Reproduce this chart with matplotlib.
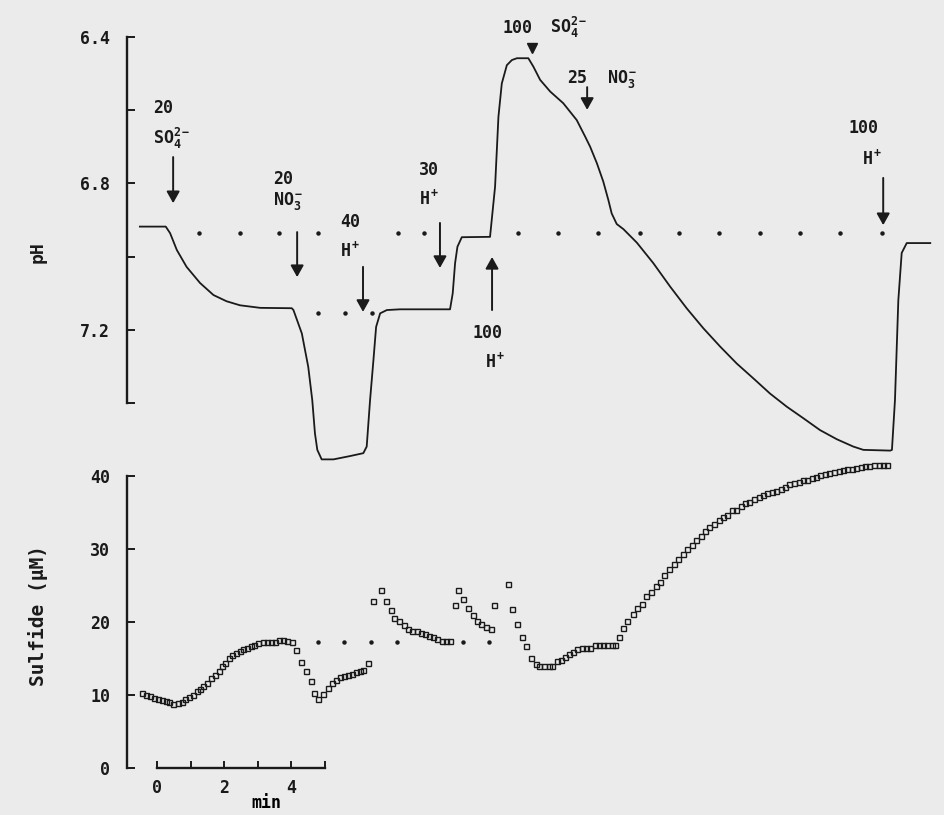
"""Recreate the pH / sulfide time course figure (dot-matrix style plot)."""

import matplotlib

matplotlib.use("Agg")
import matplotlib.pyplot as plt

BG = "#ebebeb"
INK = "#1a1a1a"

# ---- data (time in min) ---------------------------------------------------
ph_time = [
    -0.51, 0.26, 0.39, 0.59, 0.88, 1.28, 1.68, 2.07, 2.47, 3.07, 4.01, 4.06,
    4.31, 4.50, 4.62, 4.70, 4.77, 4.90, 5.25, 5.74, 6.14, 6.24, 6.34, 6.44,
    6.52, 6.64, 6.84, 7.23, 8.72, 8.80, 8.87, 8.94, 9.07, 9.91, 10.06, 10.16,
    10.26, 10.41, 10.56, 10.71, 11.05, 11.20, 11.40, 11.70, 12.09, 12.49,
    12.74, 12.89, 13.09, 13.28, 13.43, 13.53, 13.68, 13.88, 14.28, 14.77,
    15.27, 15.76, 16.26, 16.76, 17.25, 17.75, 18.24, 18.74, 19.24, 19.73,
    20.23, 20.72, 21.02, 21.82, 21.87, 21.96, 22.06, 22.16, 22.31, 23.01,
]
ph_value = [
    6.918, 6.918, 6.936, 6.982, 7.028, 7.072, 7.105, 7.122, 7.133, 7.140,
    7.141, 7.146, 7.210, 7.301, 7.392, 7.483, 7.528, 7.554, 7.554, 7.545,
    7.537, 7.519, 7.392, 7.283, 7.192, 7.155, 7.146, 7.144, 7.144, 7.100,
    7.018, 6.973, 6.947, 6.946, 6.809, 6.618, 6.527, 6.477, 6.463, 6.458,
    6.458, 6.481, 6.517, 6.549, 6.581, 6.627, 6.672, 6.700, 6.745, 6.795,
    6.845, 6.882, 6.911, 6.925, 6.962, 7.018, 7.082, 7.141, 7.196, 7.246,
    7.292, 7.333, 7.374, 7.410, 7.442, 7.474, 7.499, 7.519, 7.528, 7.530,
    7.528, 7.392, 7.119, 6.990, 6.963, 6.963,
]

sulfide_time = [
    -0.46, -0.33, -0.21, -0.09, 0.04, 0.16, 0.27, 0.37, 0.49, 0.62, 0.73,
    0.83, 0.96, 1.06, 1.18, 1.28, 1.38, 1.50, 1.61, 1.73, 1.83, 1.93, 2.02,
    2.14, 2.24, 2.35, 2.47, 2.57, 2.69, 2.79, 2.90, 3.02, 3.14, 3.26, 3.38,
    3.51, 3.63, 3.74, 3.86, 4.03, 4.13, 4.28, 4.43, 4.57, 4.68, 4.80, 4.95,
    5.08, 5.20, 5.32, 5.45, 5.57, 5.69, 5.81, 5.92, 6.04, 6.14, 6.27,
    6.42, 6.66, 6.82, 6.96, 7.06, 7.20, 7.35, 7.48, 7.60, 7.73, 7.85, 7.98,
    8.10, 8.22, 8.34, 8.47, 8.59, 8.72,
    8.87, 8.96, 9.11, 9.26, 9.40, 9.51, 9.64, 9.78, 9.93,
    10.03, 10.44, 10.57, 10.72, 10.87, 10.97, 11.12, 11.27, 11.38, 11.52,
    11.65, 11.76, 11.90, 12.01, 12.14, 12.26, 12.39, 12.51, 12.64, 12.77,
    12.89, 13.04, 13.15, 13.28, 13.40, 13.53, 13.63, 13.76, 13.86, 14.00,
    14.15, 14.28, 14.42, 14.55, 14.69, 14.84, 14.97, 15.10, 15.25, 15.37,
    15.51, 15.65, 15.78, 15.91, 16.04, 16.18, 16.31, 16.44, 16.56, 16.71,
    16.84, 16.97, 17.10, 17.23, 17.37, 17.50, 17.63, 17.77, 17.90, 18.03,
    18.16, 18.29, 18.42, 18.56, 18.69, 18.82, 18.96, 19.09, 19.22, 19.35,
    19.49, 19.61, 19.73, 19.88, 20.01, 20.15, 20.28, 20.41, 20.54, 20.67,
    20.80, 20.94, 21.07, 21.20, 21.34, 21.47, 21.60, 21.73,
]
sulfide_value = [
    10.3, 10.0, 9.8, 9.6, 9.5, 9.3, 9.2, 9.0, 8.7, 8.9, 9.1,
    9.5, 9.7, 10.0, 10.5, 10.8, 11.2, 11.7, 12.3, 12.7, 13.3, 13.9, 14.4,
    15.1, 15.5, 15.8, 16.0, 16.3, 16.5, 16.7, 16.9, 17.1, 17.3, 17.3, 17.3,
    17.3, 17.5, 17.5, 17.4, 17.2, 16.1, 14.5, 13.3, 11.9, 10.3, 9.5, 10.2,
    10.9, 11.6, 12.1, 12.4, 12.6, 12.7, 12.9, 13.1, 13.3, 13.4, 14.4,
    22.9, 24.4, 22.9, 21.6, 20.6, 20.2, 19.6, 19.1, 18.8, 18.7, 18.5, 18.3,
    18.1, 17.9, 17.7, 17.4, 17.4, 17.4,
    22.3, 24.4, 23.2, 21.9, 21.0, 20.2, 19.7, 19.3, 19.0,
    22.3, 25.2, 21.8, 19.7, 17.9, 16.7, 15.0, 14.2, 13.9, 13.9,
    13.9, 14.0, 14.6, 14.8, 15.2, 15.6, 15.9, 16.3, 16.5, 16.5,
    16.5, 16.8, 16.8, 16.8, 16.8, 16.8, 16.8, 17.9, 19.2, 20.2,
    21.1, 21.9, 22.5, 23.5, 24.1, 24.9, 25.5, 26.4, 27.3, 28.0,
    28.6, 29.3, 30.0, 30.6, 31.2, 31.8, 32.4, 33.0, 33.4, 34.0,
    34.4, 34.7, 35.3, 35.4, 35.9, 36.3, 36.5, 36.8, 37.1, 37.4,
    37.6, 37.8, 38.0, 38.2, 38.5, 38.9, 39.1, 39.2, 39.4, 39.5,
    39.7, 39.9, 40.1, 40.3, 40.4, 40.6, 40.7, 40.8, 40.9, 41.0,
    41.1, 41.2, 41.3, 41.4, 41.5, 41.5, 41.5, 41.5,
]

# dotted reference levels
ph_ref_high = 6.936
ph_ref_high_time = [1.25, 2.47, 3.63, 4.79, 7.17, 7.95, 10.74, 11.93, 13.13,
                    14.38, 15.54, 16.73, 17.95, 19.14, 20.33, 21.58]
ph_ref_low = 7.155
ph_ref_low_time = [4.79, 5.60, 6.40]
sulfide_ref = 17.3
sulfide_ref_time = [4.79, 5.57, 6.37, 7.14, 9.11, 9.88]

ph_ticks = [6.4, 6.8, 7.2]
ph_minor = [6.6, 7.0, 7.4]
sulfide_ticks = [0, 10, 20, 30, 40]
time_ticks = [0, 2, 4]
time_minor = [1, 3, 5]

FS = 12


def style() -> None:
    plt.rcParams.update(
        {
            "font.family": "DejaVu Sans Mono",
            "font.weight": "bold",
            "font.size": FS,
            "mathtext.fontset": "custom",
            "mathtext.rm": "DejaVu Sans Mono:bold",
            "mathtext.bf": "DejaVu Sans Mono:bold",
            "mathtext.it": "DejaVu Sans Mono:bold",
            "mathtext.default": "rm",
            "text.color": INK,
            "axes.edgecolor": INK,
            "axes.linewidth": 1.7,
            "xtick.color": INK,
            "ytick.color": INK,
        }
    )


def arrow(ax, t, tail, tip) -> None:
    ax.annotate(
        "",
        xy=(t, tip),
        xytext=(t, tail),
        annotation_clip=False,
        arrowprops=dict(
            arrowstyle="-|>,head_length=0.5,head_width=0.28",
            color=INK,
            lw=1.4,
            shrinkA=0,
            shrinkB=0,
            mutation_scale=14,
        ),
    )


def label(ax, t, y, s) -> None:
    ax.text(t, y, s, ha="left", va="baseline", fontsize=FS,
            fontweight="bold", clip_on=False)


def main() -> None:
    style()
    fig = plt.figure(figsize=(9.45, 8.15), dpi=100, facecolor=BG)
    left, width = 127 / 945, 813 / 945
    ax_ph = fig.add_axes([left, 0.5055, width, 0.4491])
    ax_s = fig.add_axes([left, 0.0577, width, 0.3583])
    xlim = (-0.893, 23.30)

    # ---- pH panel ----
    ax_ph.set_facecolor("none")
    ax_ph.plot(ph_time, ph_value, color=INK, lw=1.3, clip_on=False)
    ax_ph.plot(ph_ref_high_time, [ph_ref_high] * len(ph_ref_high_time),
               ls="none", marker="o", ms=2.2, color=INK, clip_on=False)
    ax_ph.plot(ph_ref_low_time, [ph_ref_low] * len(ph_ref_low_time),
               ls="none", marker="o", ms=2.2, color=INK, clip_on=False)
    ax_ph.set_xlim(*xlim)
    ax_ph.set_ylim(7.4, 6.4)
    for side in ("top", "right", "bottom"):
        ax_ph.spines[side].set_visible(False)
    ax_ph.set_xticks([])
    ax_ph.set_yticks(ph_ticks)
    ax_ph.set_yticklabels([f"{v:.1f}" for v in ph_ticks])
    ax_ph.set_yticks(ph_minor, minor=True)
    ax_ph.tick_params(axis="y", which="both", direction="in", length=6,
                      width=1.4, pad=12, labelsize=FS)

    # additions: arrows and labels
    arrow(ax_ph, 0.48, 6.728, 6.854)
    label(ax_ph, -0.12, 6.608, "20")
    label(ax_ph, -0.12, 6.692, r"SO$_4^{2-}$")

    arrow(ax_ph, 4.17, 6.933, 7.056)
    label(ax_ph, 3.45, 6.802, "20")
    label(ax_ph, 3.45, 6.859, r"NO$_3^-$")

    arrow(ax_ph, 6.13, 7.028, 7.151)
    label(ax_ph, 5.45, 6.919, "40")
    label(ax_ph, 5.45, 7.001, r"H$^+$")

    arrow(ax_ph, 8.42, 6.908, 7.031)
    label(ax_ph, 7.80, 6.777, "30")
    label(ax_ph, 7.80, 6.859, r"H$^+$")

    arrow(ax_ph, 9.97, 7.146, 7.001)
    label(ax_ph, 9.40, 7.222, "100")
    label(ax_ph, 9.76, 7.304, r"H$^+$")

    ax_ph.plot([11.15], [6.431], marker="v", ms=7, color=INK, clip_on=False)
    label(ax_ph, 10.27, 6.389, "100")
    label(ax_ph, 11.70, 6.389, r"SO$_4^{2-}$")

    arrow(ax_ph, 12.80, 6.537, 6.599)
    label(ax_ph, 12.20, 6.526, "25")
    label(ax_ph, 13.39, 6.526, r"NO$_3^-$")

    arrow(ax_ph, 21.61, 6.785, 6.914)
    label(ax_ph, 20.57, 6.662, "100")
    label(ax_ph, 20.98, 6.750, r"H$^+$")

    # ---- sulfide panel ----
    ax_s.set_facecolor("none")
    ax_s.plot(sulfide_time, sulfide_value, ls="none", marker="s", ms=3.6,
              mfc="none", mec=INK, mew=1.0, clip_on=False)
    ax_s.plot(sulfide_ref_time, [sulfide_ref] * len(sulfide_ref_time),
              ls="none", marker="o", ms=2.2, color=INK)
    ax_s.set_xlim(*xlim)
    ax_s.set_ylim(0, 40)
    for side in ("top", "right"):
        ax_s.spines[side].set_visible(False)
    ax_s.spines["left"].set_bounds(0, 40)
    ax_s.spines["bottom"].set_bounds(0, 5)
    ax_s.set_yticks(sulfide_ticks)
    ax_s.set_xticks(time_ticks)
    ax_s.set_xticks(time_minor, minor=True)
    ax_s.tick_params(axis="y", direction="in", length=6, width=1.4, pad=12,
                     labelsize=FS)
    ax_s.tick_params(axis="x", which="both", direction="in", length=5,
                     width=1.4, pad=8, labelsize=FS)
    ax_s.set_xlabel("min", fontsize=FS, fontweight="bold")
    ax_s.xaxis.set_label_coords(0.172, -0.09)

    fig.text(0.040, 0.691, "pH", rotation=90, ha="center", va="center",
             fontsize=13, fontweight="bold")
    fig.text(0.040, 0.245, "Sulfide (µM)", rotation=90, ha="center",
             va="center", fontsize=14, fontweight="bold")

    fig.savefig("out.png", dpi=100, facecolor=BG)


if __name__ == "__main__":
    main()
